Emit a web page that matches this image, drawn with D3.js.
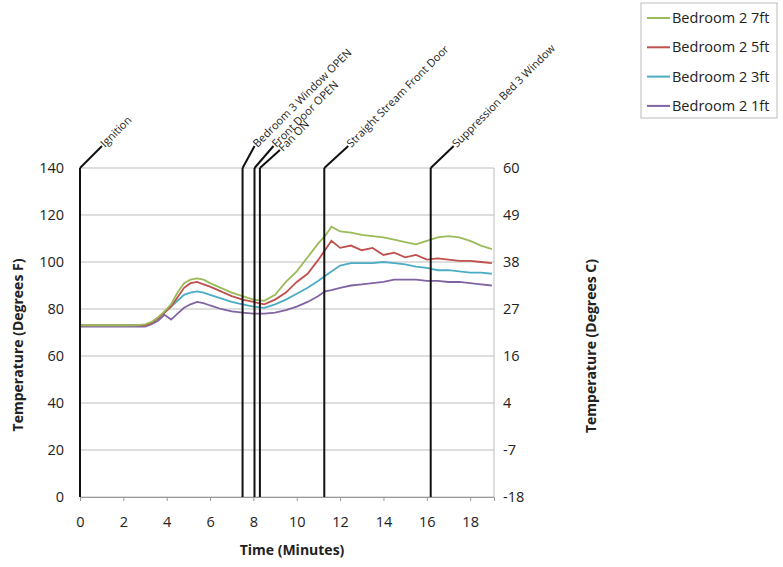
<!DOCTYPE html>
<html><head><meta charset="utf-8">
<script src="https://cdn.jsdelivr.net/npm/d3@7"></script>
<style>
body{margin:0;background:#fff;}
text{font-family:"Open Sans",sans-serif;fill:#222;}
</style></head>
<body><svg id="c" width="783" height="567"></svg>
<script>
const time = [0,0.5,1,1.5,2,2.5,3,3.3,3.6,3.9,4.2,4.5,4.8,5.1,5.4,5.7,6,6.5,7,7.5,8,8.5,9,9.5,10,10.5,11,11.3,11.6,12,12.5,13,13.5,14,14.5,15,15.5,16,16.5,17,17.5,18,18.5,19];
const bed7ft = [73,73,73,73,73,73,73.5,74.5,76.5,79,82,87,91,92.5,93,92.5,91,89,87,85.5,84,83.5,86,91.5,96,102,108,111,115,113,112.5,111.5,111,110.5,109.5,108.5,107.5,109,110.5,111,110.5,109,107,105.5];
const bed5ft = [73,73,73,73,73,73,73,74,76,78.5,81,85,89,91,91.5,90.5,89.5,87.5,85.5,84,83,82,84,87,91.5,95,101,105,109,106,107,105,106,103,104,102,103,101,101.5,101,100.5,100.5,100,99.5];
const bed3ft = [73,73,73,73,73,73,73,74,76,78.5,81,83.5,86,87,87.5,87,86,84.5,83,82,81,80.5,82,84,86.5,89,92,94,96,98.5,99.5,99.5,99.5,100,99.5,99,98,97.5,96.5,96.5,96,95.5,95.5,95];
const bed1ft = [72.5,72.5,72.5,72.5,72.5,72.5,72.5,73.5,75,77.5,75.5,78,80.5,82,83,82.5,81.5,80,79,78.5,78,78,78.5,79.5,81,83,85.5,87.5,88,89,90,90.5,91,91.5,92.5,92.5,92.5,92,92,91.5,91.5,91,90.5,90];
const seriesNames = ["Bedroom 2 7ft","Bedroom 2 5ft","Bedroom 2 3ft","Bedroom 2 1ft"];
const seriesColors = ["#9BBB59","#C0504D","#4BACC6","#8064A2"];
const eventNames = ["Ignition","Bedroom 3 Window OPEN","Front Door OPEN","Fan ON","Straight Stream Front Door","Suppression Bed 3 Window"];
const eventTimes = [0,7.5,8.05,8.3,11.27,16.18];
const xTicks = [0,2,4,6,8,10,12,14,16,18];
const yTicksF = [0,20,40,60,80,100,120,140];
const yTicksC = ["-18","-7","4","16","27","38","49","60"];

const svg = d3.select("#c");
const L=80,R=494,T=168,B=497;
const x = d3.scaleLinear().domain([0,19.1]).range([L,R]);
const y = d3.scaleLinear().domain([0,140]).range([B,T]);

svg.append("g").selectAll("line").data(yTicksF).join("line")
  .attr("x1",L).attr("x2",R).attr("y1",d=>y(d)).attr("y2",d=>y(d))
  .attr("stroke","#bdbdbd").attr("stroke-width",1);
svg.append("line").attr("x1",R).attr("x2",R).attr("y1",T).attr("y2",B).attr("stroke","#bdbdbd");

const xa = svg.append("g").attr("transform",`translate(0,${B})`)
  .call(d3.axisBottom(x).tickValues(xTicks).tickSize(4).tickPadding(16));
xa.select(".domain").attr("stroke","#999");
xa.selectAll(".tick line").attr("stroke","#999");
xa.selectAll("text").style("font-size","14.5px").attr("fill","#222");

const ya = svg.append("g").attr("transform",`translate(${L},0)`)
  .call(d3.axisLeft(y).tickValues(yTicksF).tickSize(0).tickPadding(16));
ya.select(".domain").attr("stroke","#999");
ya.selectAll("text").style("font-size","14.5px").attr("fill","#222");

svg.append("g").selectAll("text").data(yTicksF).join("text")
  .attr("x",R+9).attr("y",d=>y(d)).attr("dy","0.35em")
  .style("font-size","14.5px").text((d,i)=>yTicksC[i]);

const allSeries=[bed7ft,bed5ft,bed3ft,bed1ft];
const line=d3.line().x((d,i)=>x(time[i])).y(d=>y(d));
[3,2,1,0].forEach(k=>{
  svg.append("path").datum(allSeries[k]).attr("d",line)
    .attr("fill","none").attr("stroke",seriesColors[k]).attr("stroke-width",1.8);
});

const offs=[[22,-22],[12,-22],[19,-22],[20,-18],[24,-22],[23,-22]];
eventTimes.forEach((t,i)=>{
  const ex=x(t);
  svg.append("line").attr("x1",ex).attr("x2",ex).attr("y1",B).attr("y2",T)
    .attr("stroke","#111").attr("stroke-width",2);
  svg.append("line").attr("x1",ex).attr("y1",T).attr("x2",ex+offs[i][0]).attr("y2",T+offs[i][1])
    .attr("stroke","#111").attr("stroke-width",2);
  svg.append("text").attr("transform",`translate(${ex+offs[i][0]+3},${T+offs[i][1]+2}) rotate(-45)`)
    .style("font-size","11px").attr("fill","#333").text(eventNames[i]);
});

svg.append("text").attr("x",(L+R)/2+5).attr("y",555).attr("text-anchor","middle")
  .style("font-size","14px").style("font-weight","bold").text("Time (Minutes)");
svg.append("text").attr("transform","translate(23,345) rotate(-90)").attr("text-anchor","middle")
  .style("font-size","14px").style("font-weight","bold").text("Temperature (Degrees F)");
svg.append("text").attr("transform","translate(596,346) rotate(-90)").attr("text-anchor","middle")
  .style("font-size","14px").style("font-weight","bold").text("Temperature (Degrees C)");

const lg=svg.append("g");
lg.append("rect").attr("x",641).attr("y",3).attr("width",136).attr("height",115)
  .attr("fill","#fff").attr("stroke","#bbb");
seriesNames.forEach((n,i)=>{
  const ly=18+i*29.3;
  lg.append("line").attr("x1",647).attr("x2",670).attr("y1",ly).attr("y2",ly)
    .attr("stroke",seriesColors[i]).attr("stroke-width",2);
  lg.append("text").attr("x",672).attr("y",ly).attr("dy","0.35em")
    .style("font-size","14.5px").text(n);
});
</script></body></html>
